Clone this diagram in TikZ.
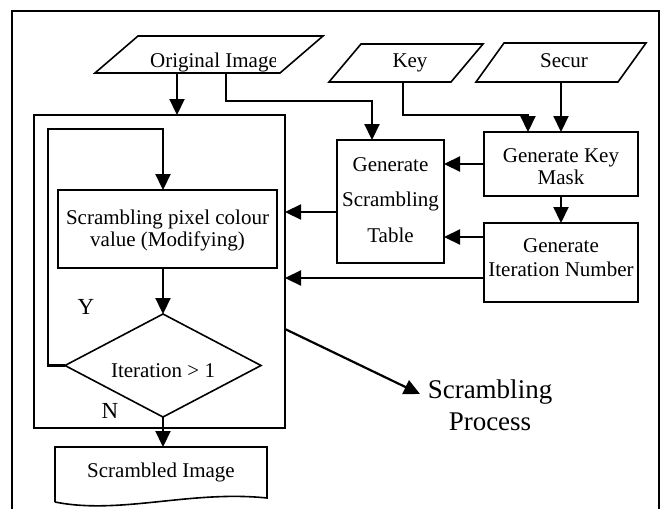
\documentclass[tikz,border=0pt]{standalone}
\usepackage{fontspec}
\setmainfont{Liberation Serif}
\usetikzlibrary{arrows.meta,shapes.geometric}
\begin{document}
\begin{tikzpicture}[x=1pt,y=-1pt,
  shp/.style={draw, line width=1.6pt, inner sep=0pt, outer sep=0pt},
  ghost/.style={inner sep=0pt, outer sep=0pt},
  txt/.style={inner sep=0pt, align=center, font=\fontsize{21}{22}\selectfont},
  outl/.style={line width=1.6pt},
  arr/.style={line width=2.2pt, -{Triangle[length=16pt,width=15pt]}},
]
\useasboundingbox (0,0) rectangle (662,509);
% outer frame
\draw[outl] (12,509) -- (12,11) -- (659,11) -- (659,509);

% scrambling process box and contents
\node[shp, minimum width=251pt, minimum height=313pt, anchor=north west] (inner) at (34,115) {};
\node[shp, minimum width=219pt, minimum height=78pt, anchor=north west] (scr) at (58,190) {};
\node[txt] (scrt) at (167.5,230) {Scrambling pixel colour\\value (Modifying)};
\node[shp, diamond, minimum width=196pt, minimum height=103pt] (dia) at (163,365.5) {};
\node[txt, anchor=base] (diat) at (163,377) {Iteration > 1};
\node[anchor=base, inner sep=0pt, font=\fontsize{23}{23}\selectfont] (ylab) at (86,314) {Y};
\node[anchor=base, inner sep=0pt, font=\fontsize{23}{23}\selectfont] (nlab) at (110,418) {N};

% right side boxes
\node[shp, minimum width=107pt, minimum height=123pt, anchor=north west] (table) at (337,140) {};
\node[txt, font=\fontsize{21}{35.5}\selectfont] (tablet) at (390.5,200) {Generate\\Scrambling\\Table};
\node[shp, minimum width=154pt, minimum height=64pt, anchor=north west] (mask) at (484,132) {};
\node[txt] (maskt) at (561,167) {Generate Key\\Mask};
\node[shp, minimum width=154pt, minimum height=79pt, anchor=north west] (iter) at (484,223) {};
\node[txt, font=\fontsize{21}{24}\selectfont] (itert) at (561,258) {Generate\\Iteration Number};

% inputs (parallelograms)
\node[ghost, minimum width=228pt, minimum height=37pt] (orig) at (209,54.5) {};
\draw[outl] (orig.south west) -- ([xshift=43pt]orig.north west) -- (orig.north east) -- ([xshift=-43pt]orig.south east) -- cycle;
\begin{scope}
  \clip (140,30) rectangle (275.5,80);
  \node[txt, anchor=base] (origt) at (214,67) {Original Image};
\end{scope}
\node[ghost, minimum width=154pt, minimum height=38pt] (key) at (406,63) {};
\draw[outl] (key.south west) -- ([xshift=32pt]key.north west) -- (key.north east) -- ([xshift=-32pt]key.south east) -- cycle;
\node[txt, anchor=base] (keyt) at (410,67) {Key};
\node[ghost, minimum width=170pt, minimum height=39pt] (secur) at (561,62.5) {};
\draw[outl] (secur.south west) -- ([xshift=28pt]secur.north west) -- (secur.north east) -- ([xshift=-28pt]secur.south east) -- cycle;
\node[txt, anchor=base] (securt) at (564,67) {Secur};

% output document
\node[ghost, minimum width=212pt, minimum height=51pt, anchor=north west] (doc) at (55,447) {};
\draw[outl] (55,502) -- (doc.north west) -- (doc.north east) -- (267,498) .. controls (190,490) and (120,515) .. (55,502);
\node[txt, anchor=base] (doct) at (161,477) {Scrambled Image};

% scrambling process label
\node[txt, font=\fontsize{27}{32}\selectfont] (sp) at (490,405) {Scrambling\\Process};
\coordinate (spa) at (420,394);

% connectors
\coordinate (b1) at (372,101);
\coordinate (b2) at (528,115);
\coordinate (b3) at (48,129);
\draw[arr] (orig.south -| 177,0) -- (inner.north -| 177,0);
\draw[arr] (orig.south -| 226,0) |- (b1) -- (table.north -| b1);
\draw[arr] (key.south -| 403,0) |- (b2) -- (mask.north -| b2);
\draw[arr] (secur.south) -- (secur.south |- mask.north);
\draw[arr] (mask.south) -- (iter.north);
\draw[arr] (mask.west) -- (mask.west -| table.east);
\draw[arr] (iter.west |- 0,237) -- (table.east |- 0,237);
\draw[arr] (iter.west |- 0,278) -- (inner.east |- 0,278);
\draw[arr] (table.west |- 0,212) -- (inner.east |- 0,212);
\draw[arr] (dia.west) -| (b3) -| (scr.north -| dia.north);
\draw[arr] (scr.south -| dia.north) -- (dia.north);
\draw[arr] (dia.south) -- (doc.north -| dia.south);
\draw[arr] (inner.east |- 0,329) -- (spa);
\end{tikzpicture}
\end{document}
